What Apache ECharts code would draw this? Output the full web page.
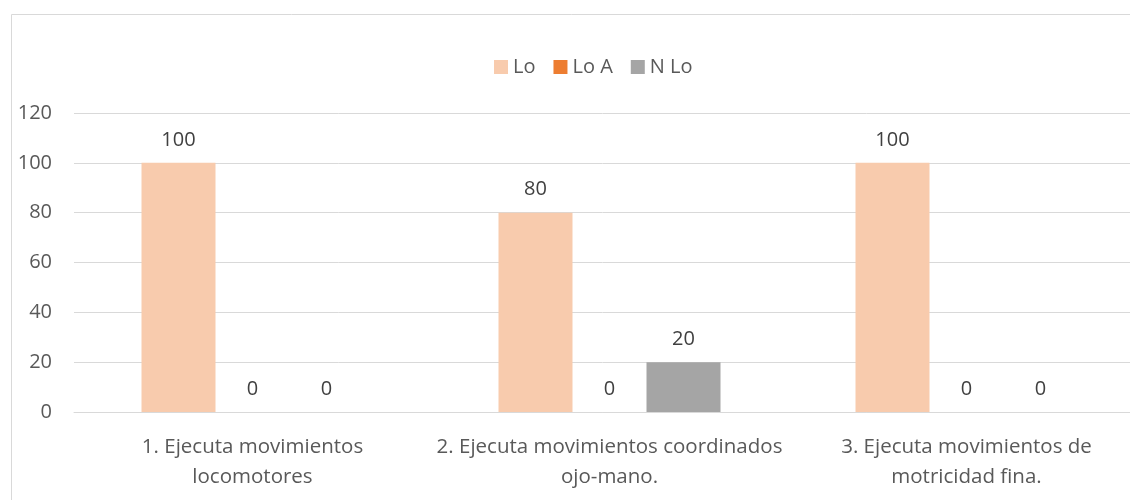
<!DOCTYPE html>
<html>
<head>
<meta charset="utf-8">
<script src="https://cdn.jsdelivr.net/npm/echarts@6/dist/echarts.min.js"></script>
<style>html,body{margin:0;padding:0;background:#fff;}#c{width:1130px;height:500px;}</style>
</head>
<body>
<div id="c"></div>
<script>
var categories = ['1. Ejecuta movimientos\nlocomotores', '2. Ejecuta movimientos coordinados\nojo-mano.', '3. Ejecuta movimientos de\nmotricidad fina.'];
var seriesNames = ['Lo', 'Lo A', 'N Lo'];
var loValues = [100, 80, 100];
var loAValues = [0, 0, 0];
var nLoValues = [0, 20, 0];
var yTicks = [0, 20, 40, 60, 80, 100, 120];

var FONT = 'Open Sans';
var TXT = '#595959';
var colors = ['#F8CBAD', '#ED7D31', '#A5A5A5'];
var data = [loValues, loAValues, nLoValues];

var chart = echarts.init(document.getElementById('c'), null, {renderer: 'canvas'});
var series = seriesNames.map(function (n, i) {
  return {
    name: n, type: 'bar', data: data[i], barWidth: 74, barGap: '0%',
    itemStyle: {color: colors[i]},
    label: {show: true, position: 'top', distance: 13, color: '#404040', fontFamily: FONT, fontSize: 20}
  };
});
chart.setOption({
  animation: false,
  textStyle: {fontFamily: FONT},
  graphic: [{type: 'rect', shape: {x: 11.5, y: 14.5, width: 1200, height: 600}, style: {fill: null, stroke: '#d9d9d9', lineWidth: 1}, silent: true, z: -1}],
  legend: {
    data: seriesNames, top: 52, left: 489, itemWidth: 14, itemHeight: 14, itemGap: 18, icon: 'rect',
    textStyle: {color: TXT, fontFamily: FONT, fontSize: 20}
  },
  grid: {left: 74, top: 113, width: 1071, bottom: 88, containLabel: false, outerBoundsMode: 'none'},
  xAxis: {
    type: 'category', data: categories,
    axisLine: {lineStyle: {color: '#d9d9d9'}}, axisTick: {show: false},
    axisLabel: {color: TXT, fontFamily: FONT, fontSize: 20.5, lineHeight: 30, margin: 20, interval: 0}
  },
  yAxis: {
    type: 'value', min: 0, max: 120, interval: 20,
    axisLine: {show: false}, axisTick: {show: false},
    splitLine: {lineStyle: {color: '#d9d9d9'}},
    axisLabel: {color: TXT, fontFamily: FONT, fontSize: 20, margin: 22}
  },
  series: series
});
</script>
</body>
</html>
